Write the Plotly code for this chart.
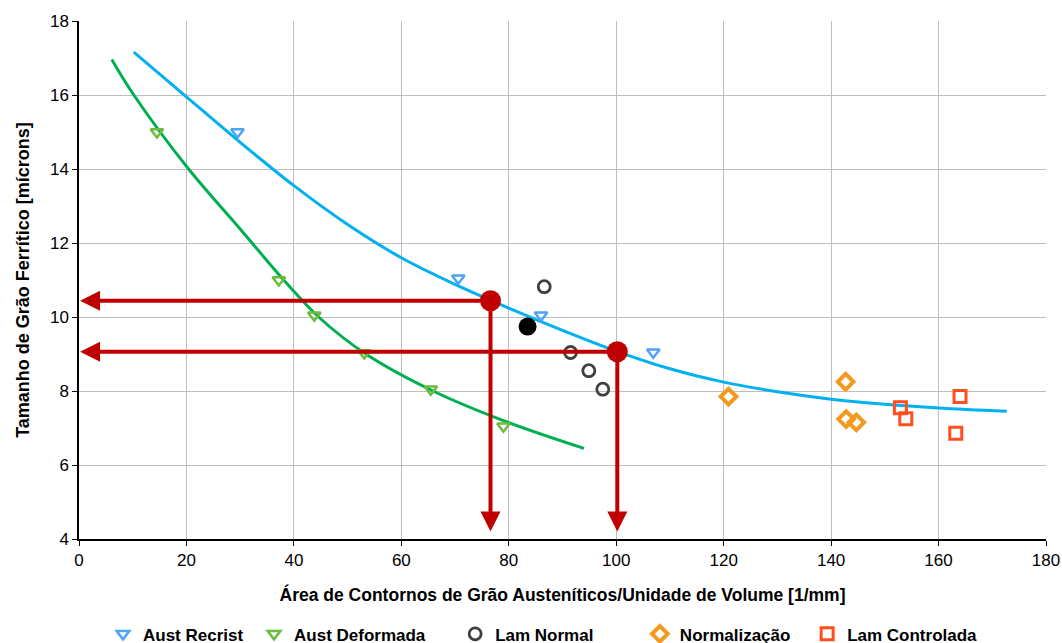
import plotly.graph_objects as go

# ---- data ----
recrist_x = [29.5, 70.6, 86.0, 106.9]
recrist_y = [15.0, 11.05, 10.05, 9.05]

deform_x = [14.5, 37.2, 43.8, 53.1, 65.5, 79.0]
deform_y = [15.0, 11.0, 10.05, 9.03, 8.05, 7.05]

lam_normal_x = [86.6, 91.5, 94.9, 97.5]
lam_normal_y = [10.82, 9.04, 8.55, 8.05]

black_x = [83.5]
black_y = [9.74]

normaliz_x = [120.9, 142.7, 142.8, 144.7]
normaliz_y = [7.85, 8.25, 7.24, 7.15]

controlada_x = [152.9, 153.9, 164.0, 163.2]
controlada_y = [7.55, 7.25, 7.85, 6.86]

# fitted curves
blue_curve_x = [10.2, 20.0, 30.0, 40.0, 50.0, 60.0, 70.0, 80.0, 90.0, 100.0, 110.0, 120.0, 130.0, 140.0, 150.0, 160.0, 172.7]
blue_curve_y = [17.16, 15.95, 14.72, 13.55, 12.5, 11.6, 10.88, 10.24, 9.64, 9.08, 8.6, 8.24, 7.98, 7.78, 7.64, 7.54, 7.45]

green_curve_x = [6.1, 10.2, 20.4, 30.0, 38.1, 44.6, 53.4, 65.9, 79.0, 94.0]
green_curve_y = [16.96, 16.0, 14.0, 12.38, 11.0, 10.0, 9.0, 8.0, 7.2, 6.45]

# highlighted readings (red dots and arrows)
read_x = [76.6, 100.2]
read_y = [10.44, 9.06]
arrow_tip_x = 0.2
arrow_tip_y = 4.2

x_ticks = [0, 20, 40, 60, 80, 100, 120, 140, 160, 180]
y_ticks = [4, 6, 8, 10, 12, 14, 16, 18]

RED = "#C00000"
FONT = "Liberation Sans, Arial, sans-serif"

fig = go.Figure()

fig.add_trace(go.Scatter(x=blue_curve_x, y=blue_curve_y, mode="lines", line=dict(color="#00B0F0", width=3, shape="spline", smoothing=1.0),
                         showlegend=False, hoverinfo="skip"))
fig.add_trace(go.Scatter(x=green_curve_x, y=green_curve_y, mode="lines", line=dict(color="#00B050", width=3, shape="spline", smoothing=1.0),
                         showlegend=False, hoverinfo="skip"))

# red reading lines + arrows
for xr, yr in zip(read_x, read_y):
    fig.add_annotation(x=arrow_tip_x, y=yr, ax=xr, ay=yr, xref="x", yref="y", axref="x", ayref="y",
                       showarrow=True, arrowhead=2, arrowsize=1.0, arrowwidth=4, arrowcolor=RED, text="", standoff=0, startstandoff=0)
    fig.add_annotation(x=xr, y=arrow_tip_y, ax=xr, ay=yr, xref="x", yref="y", axref="x", ayref="y",
                       showarrow=True, arrowhead=2, arrowsize=1.0, arrowwidth=4, arrowcolor=RED, text="", standoff=0, startstandoff=0)

fig.add_trace(go.Scatter(x=read_x, y=read_y, mode="markers", marker=dict(color=RED, size=21),
                         showlegend=False, hoverinfo="skip"))

fig.add_trace(go.Scatter(x=recrist_x, y=recrist_y, mode="markers", name="Aust Recrist", legend="legend",
                         marker=dict(symbol="triangle-down-open", size=11, color="#4DA3F5", line=dict(width=2.5, color="#4DA3F5"))))
fig.add_trace(go.Scatter(x=deform_x, y=deform_y, mode="markers", name="Aust Deformada", legend="legend2",
                         marker=dict(symbol="triangle-down-open", size=11, color="#6DBB3C", line=dict(width=2.5, color="#6DBB3C"))))
fig.add_trace(go.Scatter(x=lam_normal_x, y=lam_normal_y, mode="markers", name="Lam Normal", legend="legend3",
                         marker=dict(symbol="circle-open", size=12, color="#404040", line=dict(width=2.8, color="#404040"))))
fig.add_trace(go.Scatter(x=normaliz_x, y=normaliz_y, mode="markers", name="Normalização", legend="legend4",
                         marker=dict(symbol="diamond-open", size=12, color="#F39A1E", line=dict(width=4, color="#F39A1E"))))
fig.add_trace(go.Scatter(x=controlada_x, y=controlada_y, mode="markers", name="Lam Controlada", legend="legend5",
                         marker=dict(symbol="square-open", size=12, color="#FF4F1F", line=dict(width=3, color="#FF4F1F"))))
fig.add_trace(go.Scatter(x=black_x, y=black_y, mode="markers", showlegend=False,
                         marker=dict(symbol="circle", size=18, color="#000000")))

leg_common = dict(orientation="h", yanchor="middle", xanchor="left", y=-0.184, bgcolor="rgba(0,0,0,0)",
                  font=dict(family=FONT, size=17, color="#000000", weight="bold"), itemwidth=30, tracegroupgap=0)
fig.update_layout(
    width=1062, height=643,
    margin=dict(l=79, r=16, t=21, b=104, autoexpand=False),
    plot_bgcolor="white", paper_bgcolor="white",
    legend=dict(x=0.0248, **leg_common),
    legend2=dict(x=0.181, **leg_common),
    legend3=dict(x=0.389, **leg_common),
    legend4=dict(x=0.580, **leg_common),
    legend5=dict(x=0.753, **leg_common),
    xaxis=dict(range=[0, 180], tickvals=x_ticks, ticktext=[str(v) for v in x_ticks],
               showgrid=True, gridcolor="#BEBEBE", gridwidth=1, zeroline=False,
               showline=True, linecolor="#000000", linewidth=1.5, ticks="outside", ticklen=5, tickcolor="#000000",
               tickfont=dict(family=FONT, size=17, color="#000000"),
               title=dict(text="Área de Contornos de Grão Austeníticos/Unidade de Volume [1/mm]",
                          font=dict(family=FONT, size=17.5, color="#000000", weight="bold"), standoff=20)),
    yaxis=dict(range=[4, 18], tickvals=y_ticks, ticktext=[str(v) for v in y_ticks],
               showgrid=True, gridcolor="#BEBEBE", gridwidth=1, zeroline=False,
               showline=True, linecolor="#000000", linewidth=1.5, ticks="outside", ticklen=5, tickcolor="#000000",
               tickfont=dict(family=FONT, size=17, color="#000000"),
               title=dict(text="Tamanho de Grão Ferrítico [mícrons]",
                          font=dict(family=FONT, size=18, color="#000000", weight="bold"), standoff=16)),
)

fig.write_html("out.html")
